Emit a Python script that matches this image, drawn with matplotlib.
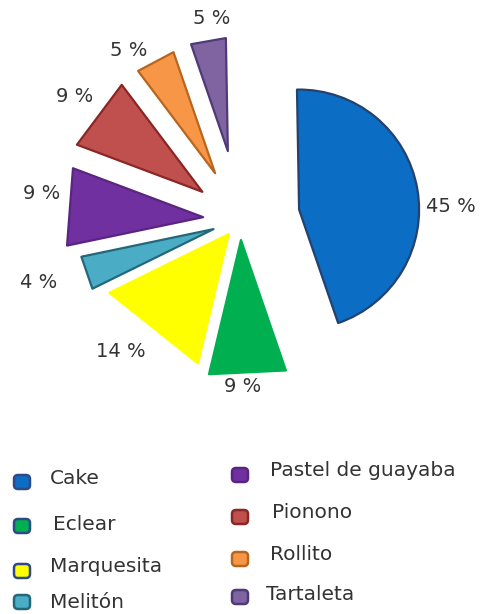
import numpy as np
import matplotlib.pyplot as plt
from matplotlib.patches import Polygon, Wedge, FancyBboxPatch

# Share of each pastry (%), listed clockwise starting at the top of "Cake"
names = ["Cake", "Eclear", "Marquesita", "Melitón",
         "Pastel de guayaba", "Pionono", "Rollito", "Tartaleta"]
shares = [45, 9, 14, 4, 9, 9, 5, 5]

fills = ["#0B6DC4", "#00B050", "#FFFF00", "#4BACC6",
         "#7030A0", "#C0504D", "#F79646", "#8064A2"]
edges = ["#23426E", "#00B050", "#FFFF00", "#23687A",
         "#5A2580", "#8A2626", "#B8661E", "#4F3A78"]

# per-slice geometry (pixel units): explode distance, outer radius,
# label distance and a small angular nudge for the label
explode = [60, 20, 18, 28, 37, 47, 53, 70]
radius = [120, 138, 133, 135, 139, 134, 128, 113]
label_dist = [152, 147, 159, 183, 163, 160, 150, 134]
label_nudge = [-9, -2, -4, -2, -4, 0, 7, -3]

center = np.array([240.0, 220.0])
start_angle = 91.0

fig = plt.figure(figsize=(4.83, 6.14), dpi=100)
ax = fig.add_axes([0, 0, 1, 1])
ax.set_xlim(0, 483)
ax.set_ylim(614, 0)
ax.set_aspect("equal")
ax.axis("off")


def unit(deg):
    a = np.radians(deg)
    # y grows downward on this axes
    return np.array([np.cos(a), -np.sin(a)])


angle = start_angle
for i, v in enumerate(shares):
    span = 360.0 * v / sum(shares)
    t1, t2 = angle - span, angle
    mid = (t1 + t2) / 2
    apex = center + explode[i] * unit(mid)
    if names[i] == "Cake":
        # inverted y axis mirrors the angles
        patch = Wedge(apex, radius[i], -t2, -t1, facecolor=fills[i],
                      edgecolor=edges[i], linewidth=1.6, joinstyle="round")
    else:
        pts = [apex, apex + radius[i] * unit(t1), apex + radius[i] * unit(t2)]
        patch = Polygon(pts, closed=True, facecolor=fills[i],
                        edgecolor=edges[i], linewidth=1.6, joinstyle="round")
    ax.add_patch(patch)
    lx, ly = apex + label_dist[i] * unit(mid + label_nudge[i])
    ax.text(lx, ly, f"{v} %", ha="center", va="center",
            fontsize=14, color="#333333")
    angle = t1

# legend laid out in two columns
legend_rows = [
    (22, 482, 50, 478), (22, 526, 53, 524), (22, 571, 50, 566), (22, 602, 50, 603),
    (240, 475, 270, 471), (240, 517, 272, 513), (240, 559, 270, 554), (240, 597, 266, 594),
]
for i, (mx, my, tx, ty) in enumerate(legend_rows):
    edge = "#2E4A86" if i < 3 else edges[i]
    box = FancyBboxPatch((mx - 7, my - 6), 14, 12,
                         boxstyle="round,pad=1,rounding_size=4",
                         facecolor=fills[i], edgecolor=edge, linewidth=1.8)
    ax.add_patch(box)
    ax.text(tx, ty, names[i], ha="left", va="center",
            fontsize=14.5, color="#333333")

fig.savefig("out.png", dpi=100, facecolor="white")
